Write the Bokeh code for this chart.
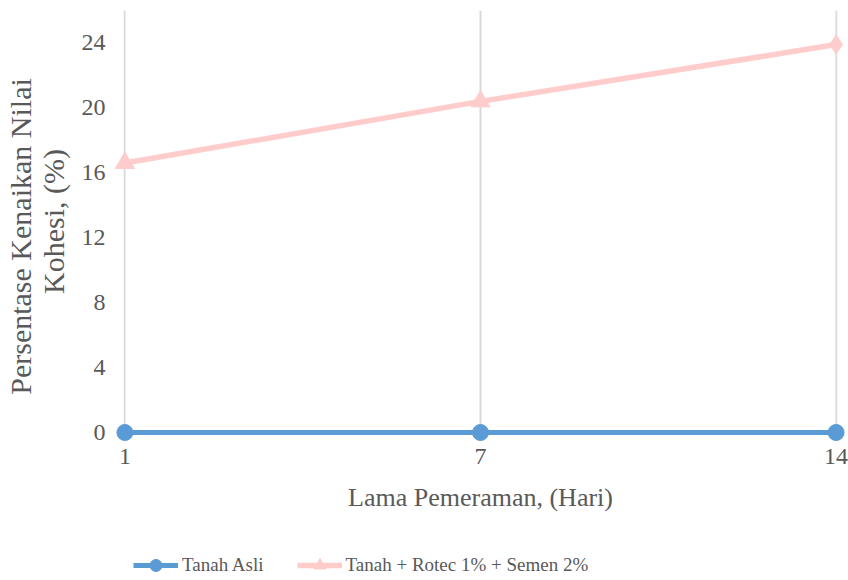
from bokeh.plotting import figure
from bokeh.layouts import column
from bokeh.models import ColumnDataSource, FixedTicker, Range1d, Legend, LegendItem
from bokeh.embed import file_html
from bokeh.resources import INLINE

categories = ["1", "7", "14"]
tanah_asli = [0, 0, 0]
tanah_rotec = [16.6, 20.4, 23.9]
rotec_markers = ["triangle", "triangle", "diamond"]
y_ticks = [0, 4, 8, 12, 16, 20, 24]
series_names = ["Tanah Asli", "Tanah + Rotec 1% + Semen 2%"]

xpos = list(range(len(categories)))
FONT = "Liberation Serif"
TXT = "#595959"
BLUE = "#5B9BD5"
PINK = "#FFCCCC"
NB = "\u00a0"

p = figure(frame_width=714, frame_height=422, output_backend="svg", toolbar_location=None,
           x_range=Range1d(-0.004, len(categories) - 1 + 0.004), y_range=Range1d(0, 26),
           min_border_left=120, min_border_right=14, min_border_top=10, min_border_bottom=98)
p.outline_line_color = None
p.background_fill_color = "white"
p.border_fill_color = "white"

src1 = ColumnDataSource(dict(x=xpos, y=tanah_asli))
src2 = ColumnDataSource(dict(x=xpos, y=tanah_rotec, m=rotec_markers))

l2 = p.line("x", "y", source=src2, line_color=PINK, line_width=5.5)
s2 = p.scatter("x", "y", source=src2, marker="m", size=19, fill_color=PINK, line_color=PINK)
l1 = p.line("x", "y", source=src1, line_color=BLUE, line_width=5)
s1 = p.scatter("x", "y", source=src1, marker="circle", size=16, fill_color=BLUE, line_color=BLUE)
for r in (l1, s1, l2, s2):
    r.level = "overlay"

p.xaxis.ticker = FixedTicker(ticks=xpos)
p.xaxis.major_label_overrides = {i: c for i, c in enumerate(categories)}
p.yaxis.ticker = FixedTicker(ticks=y_ticks)
p.ygrid.grid_line_color = None
p.xgrid.grid_line_color = "#D9D9D9"
p.xgrid.grid_line_width = 2

for ax in (p.xaxis[0], p.yaxis[0]):
    ax.axis_line_color = None
    ax.major_tick_line_color = None
    ax.minor_tick_line_color = None
    ax.major_tick_out = 0
    ax.major_tick_in = 0
    ax.major_label_text_font = FONT
    ax.major_label_text_font_size = "24px"
    ax.major_label_text_color = TXT
    ax.axis_label_text_font = FONT
    ax.axis_label_text_font_size = "26px"
    ax.axis_label_text_color = TXT
    ax.axis_label_text_font_style = "normal"

p.xaxis.axis_label = "Lama Pemeraman, (Hari)"
p.xaxis.major_label_standoff = 16
p.xaxis.axis_label_standoff = 16
p.yaxis.axis_label = "Persentase Kenaikan Nilai" + NB * 4 + "\nKohesi, (%)"
p.yaxis.axis_label_text_font_size = "30px"
p.yaxis.axis_label_text_line_height = 1.0
p.yaxis.major_label_standoff = 18
p.yaxis.axis_label_standoff = 9

# legend strip below the chart (its frame is aligned with the chart's frame)
p2 = figure(width=848, height=50, output_backend="svg", toolbar_location=None,
            x_range=Range1d(0, 1), y_range=Range1d(0, 1),
            x_axis_type=None, y_axis_type=None, min_border=0)
p2.outline_line_color = None
p2.grid.visible = False
d1 = p2.line([-10, -9], [-10, -9], line_color=BLUE, line_width=5)
d1s = p2.scatter([-10], [-10], marker="circle", size=12, fill_color=BLUE, line_color=BLUE)
d2 = p2.line([-10, -9], [-10, -9], line_color=PINK, line_width=5.5)
d2s = p2.scatter([-10], [-10], marker="triangle", size=14, fill_color=PINK, line_color=PINK)

legend = Legend(items=[
    LegendItem(label=series_names[0], renderers=[d1, d1s]),
    LegendItem(label=series_names[1], renderers=[d2, d2s]),
], orientation="horizontal", location=(10, 0))
legend.label_text_font = FONT
legend.label_text_font_size = "19px"
legend.label_text_color = TXT
legend.glyph_width = 45
legend.glyph_height = 30
legend.label_height = 30
legend.label_standoff = 4
legend.spacing = 33
legend.padding = 0
legend.margin = 0
legend.border_line_color = None
legend.background_fill_alpha = 0
p2.add_layout(legend, "center")

layout = column(p, p2, spacing=0)
open("out.html", "w").write(file_html(layout, INLINE))
